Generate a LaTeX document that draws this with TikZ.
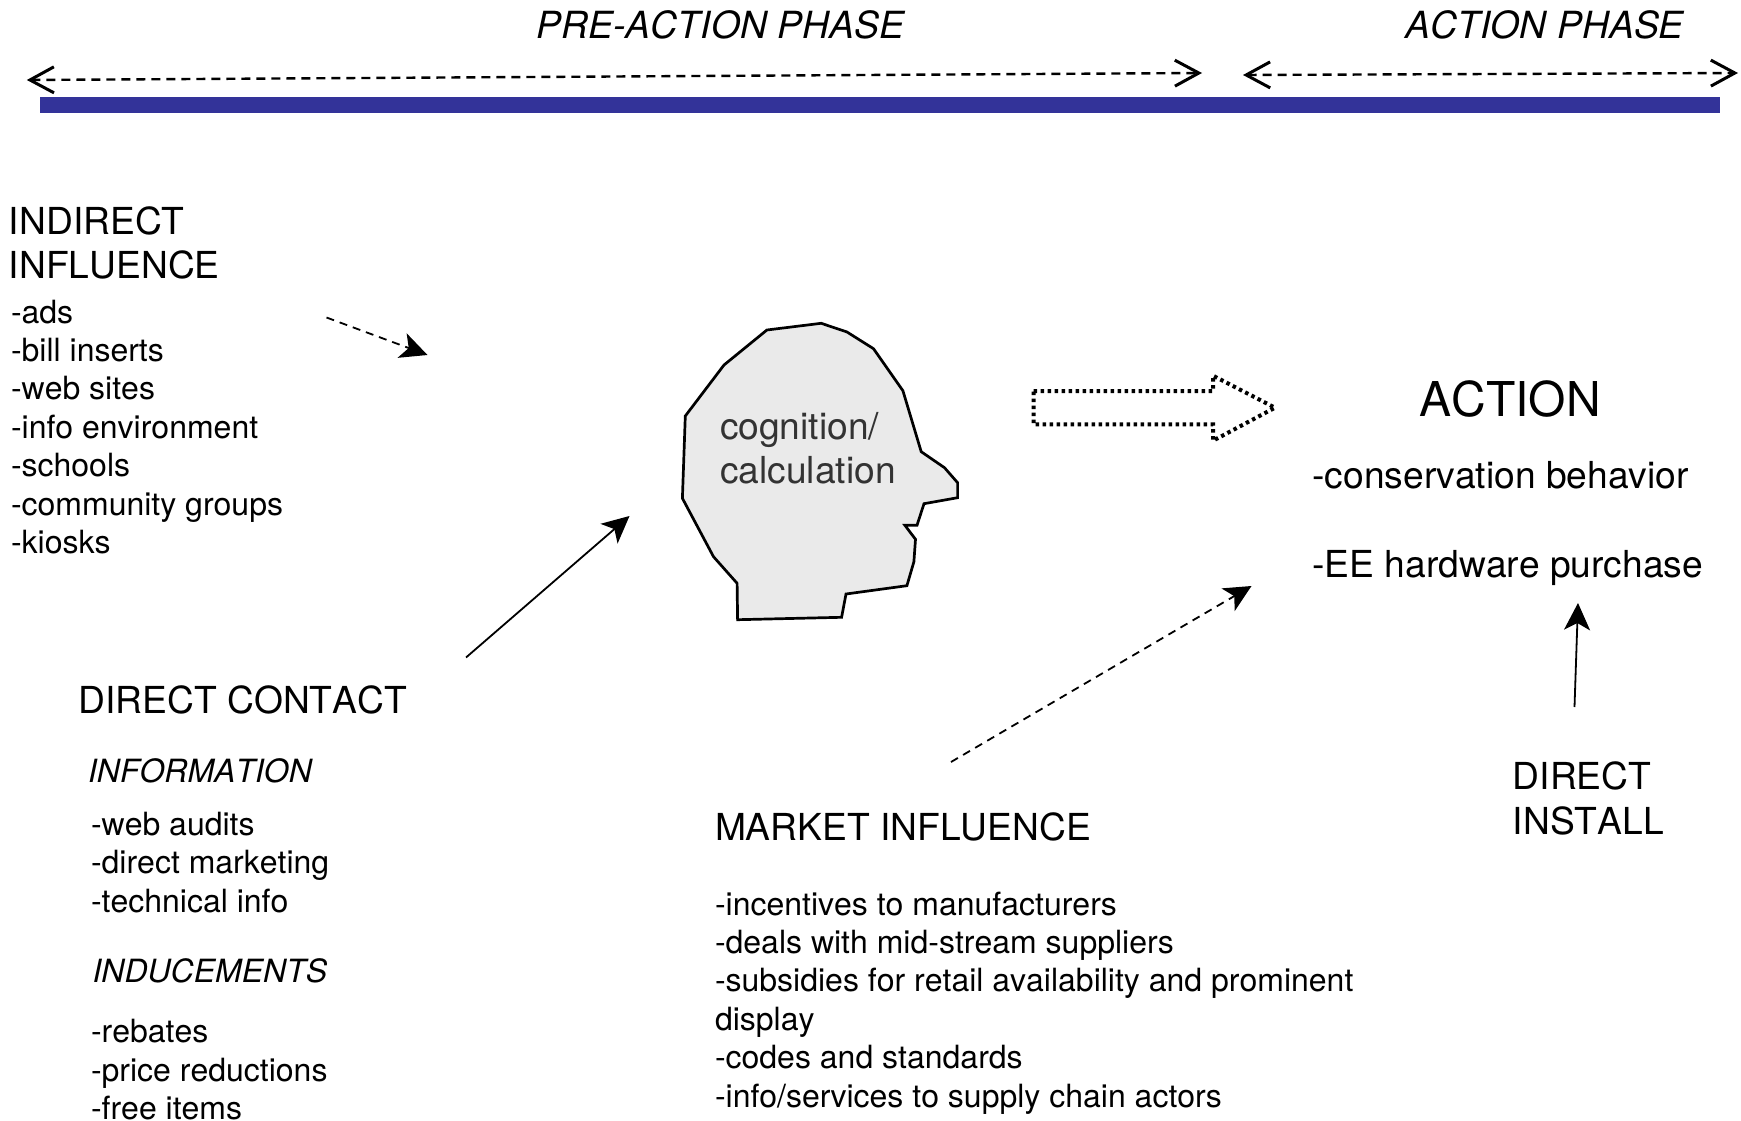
\documentclass[tikz,border=0pt]{standalone}
\usepackage{fontspec}
\setmainfont[Kerning=Off]{TeX Gyre Heros}
\usetikzlibrary{arrows.meta}
\definecolor{barblue}{HTML}{333399}
\definecolor{headfill}{HTML}{EAEAEA}
\definecolor{headtext}{HTML}{333333}
\tikzset{
  lab/.style={anchor=base west,inner sep=0pt,outer sep=0pt,align=left},
  bigtext/.style={lab,font=\fontsize{37.2}{44.4}\selectfont},
  smalltext/.style={lab,font=\fontsize{32}{38.4}\selectfont},
  smallital/.style={lab,font=\fontsize{32}{38.4}\selectfont\itshape},
  phasetext/.style={lab,font=\fontsize{37.4}{44.4}\selectfont\itshape},
  titletext/.style={lab,font=\fontsize{48}{56}\selectfont},
  phasearrow/.style={line width=2.4pt,dash pattern=on 9pt off 6pt,{Straight Barb[length=24pt,width=26pt,line width=3pt]}-{Straight Barb[length=24pt,width=26pt,line width=3pt]}},
  solidarrow/.style={line width=1.8pt,-{Stealth[length=27pt,width=26pt,inset=7pt]}},
  dasharrow/.style={solidarrow,dash pattern=on 8pt off 6pt},
}
\begin{document}
\begin{tikzpicture}[x=1pt,y=-1pt]
\useasboundingbox (0,0) rectangle (1741,1121);
\fill[barblue] (40,97) rectangle (1720,113);
\node[phasetext] (prephase) at (536.5,39) {PRE-ACTION PHASE};
\node[phasetext] (actphase) at (1405.4,39) {ACTION PHASE};
\coordinate (preL) at (26.8,80);
\coordinate (preR) at (1202,73);
\coordinate (actL) at (1243,75);
\coordinate (actR) at (1738,73);
\draw[phasearrow] (preL) -- (preR);
\draw[phasearrow] (actL) -- (actR);
\node[bigtext] (indirect) at (9,278.5) {INDIRECT\\INFLUENCE};
\node[smalltext] (indlist) at (11,553.4) {-ads\\-bill inserts\\-web sites\\-info environment\\-schools\\-community groups\\-kiosks};
\draw[fill=headfill,line width=2.7pt,line join=miter] (821.2,323.3) -- (847,332) -- (873.5,348.7) -- (902.9,390.7) -- (921.2,451.7) -- (944.5,467.7) -- (957.6,482.7) -- (957.6,497.7) -- (924,503.7) -- (917,525.3) -- (904.9,525.3) -- (915.5,539.3) -- (913.9,561.7) -- (906.9,585.7) -- (846,594) -- (841.6,617.3) -- (737.6,619.7) -- (737.1,583.3) -- (713.5,556.7) -- (682.4,498.3) -- (685.3,416) -- (724,365) -- (766.9,330) -- cycle;
\node[bigtext,text=headtext] (cognition) at (720,483.5) {cognition/\\calculation};
\draw[line width=4pt,dash pattern=on 3.5pt off 3.5pt,line cap=butt,fill=white] (1033.5,391) -- (1213,391) -- (1213,375.7) -- (1275,407.7) -- (1213,440.7) -- (1213,424.3) -- (1033.5,424.3) -- cycle;
\node[titletext] (action) at (1419.5,416.5) {ACTION};
\node[bigtext] (conserv) at (1312.4,488.5) {-conservation behavior};
\node[bigtext] (hardware) at (1312.4,577) {-EE hardware purchase};
\node[bigtext] (direct) at (78.5,713) {DIRECT CONTACT};
\node[smallital] (info) at (88,782) {INFORMATION};
\node[smalltext] (infolist) at (91,912) {-web audits\\-direct marketing\\-technical info};
\node[smallital] (induce) at (92.5,982) {INDUCEMENTS};
\node[smalltext] (induclist) at (91,1119.6) {-rebates\\-price reductions\\-free items};
\node[bigtext] (market) at (715,840) {MARKET INFLUENCE};
\node[smalltext] (marklist) at (715,1107) {-incentives to manufacturers\\-deals with mid-stream suppliers\\-subsidies for retail availability and prominent\\display\\-codes and standards\\-info/services to supply chain actors};
\node[bigtext] (install) at (1512.8,834) {DIRECT\\INSTALL};
\coordinate (a1) at (326.5,317.5);
\coordinate (a2) at (427.5,355);
\coordinate (b1) at (466,657.5);
\coordinate (b2) at (629.5,516);
\coordinate (c1) at (951,762);
\coordinate (c2) at (1251.5,586);
\coordinate (d1) at (1574.5,707);
\coordinate (d2) at (1578,603);
\draw[dasharrow] (a1) -- (a2);
\draw[solidarrow] (b1) -- (b2);
\draw[dasharrow] (c1) -- (c2);
\draw[solidarrow] (d1) -- (d2);
\end{tikzpicture}
\end{document}
